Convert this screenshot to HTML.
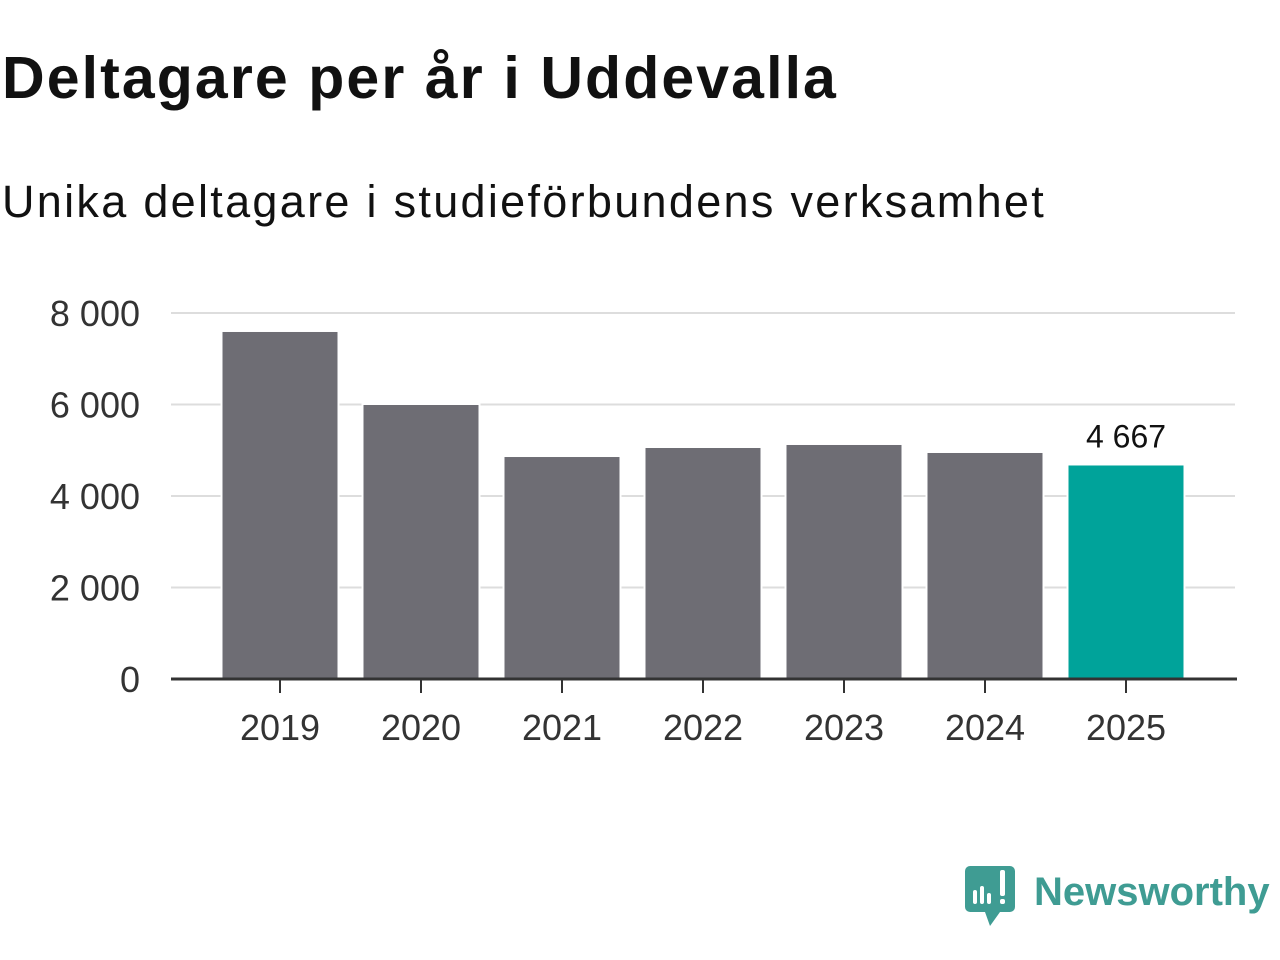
<!DOCTYPE html>
<html><head><meta charset="utf-8"><style>
body{margin:0;width:1280px;height:960px;background:#fff;font-family:"Liberation Sans",sans-serif;overflow:hidden}
#title{position:absolute;left:2px;top:44px;font-size:59px;font-weight:bold;color:#111;margin:0;letter-spacing:2.1px}
#sub{position:absolute;left:2px;top:176px;font-size:45px;color:#111;letter-spacing:2.3px}
svg{position:absolute;left:0;top:0}
</style></head><body>
<h1 id="title">Deltagare per år i Uddevalla</h1>
<div id="sub">Unika deltagare i studieförbundens verksamhet</div>
<svg id="chart" width="1280" height="960"></svg>
<script>
const categories=["2019","2020","2021","2022","2023","2024","2025"];
const values=[7585,5989,4852,5049,5115,4940,4667];
const yTicks=[0,2000,4000,6000,8000];
const yTickLabels=["0","2 000","4 000","6 000","8 000"];
const ns="http://www.w3.org/2000/svg",svg=document.getElementById('chart');
const y0=679,y1=313,yMax=8000,x0=171,x1=1235,step=141,first=280,bw=115;
const y=v=>y0-(v/yMax)*(y0-y1);
const x=i=>first+i*step;
function mk(t,a,txt){const e=document.createElementNS(ns,t);for(const k in a)e.setAttribute(k,a[k]);if(txt!=null)e.textContent=txt;svg.appendChild(e);return e;}
yTicks.forEach((t,i)=>{
  if(t>0){const g=mk('line',{x1:x0,x2:x1,y1:y(t),y2:y(t),stroke:'#ddd','stroke-width':2});
  
  }
  const l=mk('text',{x:140,y:y(t)+13,'text-anchor':'end','font-size':36,fill:'#333','font-family':'Liberation Sans'},yTickLabels[i]);
  
  
});
categories.forEach((c,i)=>{
  const last=i===categories.length-1;
  const r=mk('rect',{x:x(i)-bw/2,y:y(values[i]),width:bw,height:y0-y(values[i]),fill:last?'#00a39a':'#6e6d74',stroke:'#fff','stroke-width':4,'paint-order':'stroke'});
  
  
  const tk=mk('line',{x1:x(i),x2:x(i),y1:y0,y2:y0+14,stroke:'#333','stroke-width':2});
  
  
  const l=mk('text',{x:x(i),y:740,'text-anchor':'middle','font-size':36,fill:'#333','font-family':'Liberation Sans'},c);
  
  
  if(last){const v=mk('text',{x:x(i),y:y(values[i])-18,'text-anchor':'middle','font-size':32,fill:'#111','font-family':'Liberation Sans'},values[i].toLocaleString('sv-SE').replace(/\s/g,' '));
  
  }
});
const ax=mk('line',{x1:x0,x2:x1+2,y1:y0,y2:y0,stroke:'#333','stroke-width':3});


</script>
<svg width="1280" height="960" style="pointer-events:none">
<path d="M970 866 h40 a5 5 0 0 1 5 5 v36 a5 5 0 0 1 -5 5 h-10 l-10 14 l-5 -14 h-15 a5 5 0 0 1 -5 -5 v-36 a5 5 0 0 1 5 -5z" fill="#3f9c93"/>
<rect x="973" y="890" width="4" height="14" rx="2" fill="#fff"/><rect x="980" y="886" width="4" height="18" rx="2" fill="#fff"/><rect x="987" y="893" width="4" height="11" rx="2" fill="#fff"/><rect x="1000" y="870" width="5" height="26" rx="2" fill="#fff"/><rect x="1000" y="899" width="5" height="5" rx="2" fill="#fff"/>
<text x="1034" y="905" font-size="40" font-weight="bold" fill="#3f9c93" font-family="Liberation Sans">Newsworthy</text>
</svg>
</body></html>
